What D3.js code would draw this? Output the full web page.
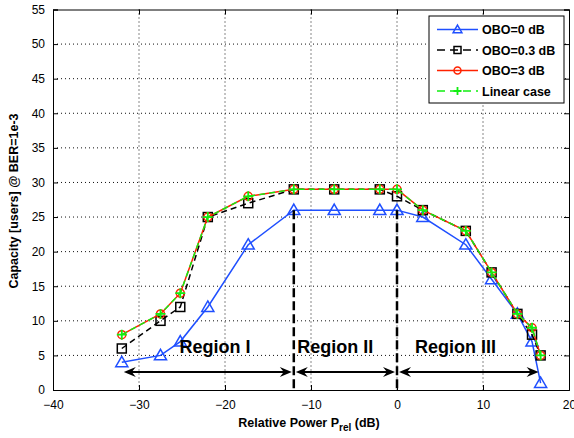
<!DOCTYPE html>
<html><head><meta charset="utf-8">
<script src="https://cdn.jsdelivr.net/npm/d3@7"></script>
<style>body{margin:0;background:#fff}svg{display:block}text{font-family:"Liberation Sans",Arial,sans-serif}</style>
</head><body><svg id="c" width="574" height="438"></svg>
<script>
const xVals = [-32, -27.5, -25.2, -22, -17.3, -12, -7.3, -2, 0, 3, 8, 11, 14, 15.7, 16.7];
const obo0 = [4, 5, 7, 12, 21, 26, 26, 26, 26, 25, 21, 16, 11, 7, 1];
const obo03 = [6, 10, 12, 25, 27, 29, 29, 29, 28, 26, 23, 17, 11, 8, 5];
const obo3 = [8, 11, 14, 25, 28, 29, 29, 29, 29, 26, 23, 17, 11, 9, 5];
const linear = [8, 11, 14, 25, 28, 29, 29, 29, 29, 26, 23, 17, 11, 9, 5];
const seriesNames = ["OBO=0 dB", "OBO=0.3 dB", "OBO=3 dB", "Linear case"];
const xTicks = [-40, -30, -20, -10, 0, 10, 20];
const yTicks = [0, 5, 10, 15, 20, 25, 30, 35, 40, 45, 50, 55];
const regionBounds = [-32, -12, 0, 16.7];
const regionLabels = ["Region I", "Region II", "Region III"];
const regionLabelX = [-25.3, -11.6, 2.1];

const svg = d3.select("#c");
const L = 53, R = 569, T = 9.5, B = 390;
const x = d3.scaleLinear().domain([-40, 20]).range([L, R]);
const y = d3.scaleLinear().domain([0, 55]).range([B, T]);

// grid
const g = svg.append("g");
g.selectAll(".gx").data(xTicks.slice(1, -1)).join("line")
  .attr("x1", d => x(d)).attr("x2", d => x(d)).attr("y1", T).attr("y2", B)
  .attr("stroke", "#111").attr("stroke-width", 1).attr("stroke-dasharray", "1,3");
g.selectAll(".gy").data(yTicks.slice(1, -1)).join("line")
  .attr("x1", L).attr("x2", R).attr("y1", d => y(d)).attr("y2", d => y(d))
  .attr("stroke", "#111").attr("stroke-width", 1).attr("stroke-dasharray", "1,3");

// axes
const ax = svg.append("g").attr("transform", `translate(0,${B})`)
  .call(d3.axisBottom(x).tickValues(xTicks).tickSize(-5).tickPadding(10).tickFormat(d3.format("d")));
const axt = svg.append("g").attr("transform", `translate(0,${T})`)
  .call(d3.axisTop(x).tickValues(xTicks).tickSize(-5).tickFormat(""));
const ay = svg.append("g").attr("transform", `translate(${L},0)`)
  .call(d3.axisLeft(y).tickValues(yTicks).tickSize(-5).tickPadding(8).tickFormat(d3.format("d")));
const ayr = svg.append("g").attr("transform", `translate(${R},0)`)
  .call(d3.axisRight(y).tickValues(yTicks).tickSize(-5).tickFormat(""));
[ax, axt, ay, ayr].forEach(a => {
  a.select(".domain").attr("stroke", "#000").attr("stroke-width", 1);
  a.selectAll(".tick line").attr("stroke", "#000");
  a.selectAll("text").attr("font-size", 12).attr("fill", "#000").attr("font-family", "Liberation Sans, Arial, sans-serif");
});
ax.selectAll(".tick text").attr("dy", "0.71em");

// series
const line = d3.line().x((d, i) => x(xVals[i])).y(d => y(d));
const plot = svg.append("g");
const series = [
  {v: obo0, c: "#1f4fff", dash: null, m: "tri"},
  {v: obo03, c: "#000", dash: "6,4", m: "sq"},
  {v: obo3, c: "#ff2200", dash: null, m: "circ"},
  {v: linear, c: "#11ee11", dash: "6,4", m: "plus"}
];
function marker(sel, type, c, px, py, s) {
  if (type === "tri") {
    sel.append("path").attr("d", `M${px},${py - s * 0.55}L${px + s * 0.55},${py + s * 0.4}L${px - s * 0.55},${py + s * 0.4}Z`)
      .attr("fill", "none").attr("stroke", c).attr("stroke-width", 1.5);
  } else if (type === "sq") {
    sel.append("rect").attr("x", px - s / 2).attr("y", py - s / 2).attr("width", s).attr("height", s)
      .attr("fill", "none").attr("stroke", c).attr("stroke-width", 1.5);
  } else if (type === "circ") {
    sel.append("circle").attr("cx", px).attr("cy", py).attr("r", s / 2)
      .attr("fill", "none").attr("stroke", c).attr("stroke-width", 1.5);
  } else {
    sel.append("path").attr("d", `M${px - s / 2},${py}H${px + s / 2}M${px},${py - s / 2}V${py + s / 2}`)
      .attr("stroke", c).attr("stroke-width", 1.8);
  }
}
const mSize = {tri: 11, sq: 9, circ: 8, plus: 10};
series.forEach(s => {
  plot.append("path").datum(s.v).attr("d", line).attr("fill", "none")
    .attr("stroke", s.c).attr("stroke-width", 1.5).attr("stroke-dasharray", s.dash);
  s.v.forEach((d, i) => marker(plot, s.m, s.c, x(xVals[i]), y(d), mSize[s.m]));
});

// region dividers
const ann = svg.append("g");
[regionBounds[1], regionBounds[2]].forEach(b => {
  ann.append("line").attr("x1", x(b)).attr("x2", x(b)).attr("y1", y(26)).attr("y2", B)
    .attr("stroke", "#000").attr("stroke-width", 2.5).attr("stroke-dasharray", "9,4");
});
const arrowY = 2.6;
function head(xt, dir, yy) {
  const len = 12, hw = 5, notch = 4;
  const p = [[xt, yy], [xt - dir * len, yy - hw], [xt - dir * (len - notch), yy], [xt - dir * len, yy + hw]];
  ann.append("path").attr("d", "M" + p.map(q => q.join(",")).join("L") + "Z").attr("fill", "#000");
}
for (let i = 0; i < 3; i++) {
  const x0 = x(regionBounds[i]) + 2, x1 = x(regionBounds[i + 1]) - 2, yy = y(arrowY);
  ann.append("line").attr("x1", x0 + 6).attr("x2", x1 - 6).attr("y1", yy).attr("y2", yy)
    .attr("stroke", "#000").attr("stroke-width", 2);
  head(x0, -1, yy); head(x1, 1, yy);
  ann.append("text").attr("x", x(regionLabelX[i])).attr("y", y(5.4)).text(regionLabels[i])
    .attr("font-size", 18).attr("font-weight", "bold").attr("fill", "#000");
}

// legend
const lg = svg.append("g");
lg.append("rect").attr("x", 429).attr("y", 16).attr("width", 135).attr("height", 87)
  .attr("fill", "#fff").attr("stroke", "#000").attr("stroke-width", 1);
const lmSize = {tri: 8, sq: 7, circ: 7, plus: 8};
series.forEach((s, i) => {
  const yy = 29.5 + i * 20.5;
  lg.append("line").attr("x1", 437).attr("x2", 478).attr("y1", yy).attr("y2", yy)
    .attr("stroke", s.c).attr("stroke-width", 1.5).attr("stroke-dasharray", s.dash ? "8,5" : null);
  marker(lg, s.m, s.c, 457.5, yy, lmSize[s.m]);
  lg.append("text").attr("x", 482).attr("y", yy + 4.5).text(seriesNames[i])
    .attr("font-size", 12.5).attr("font-weight", "bold").attr("fill", "#000");
});

// axis titles
const xt = svg.append("text").attr("x", (L + R) / 2 - 2).attr("y", 427).attr("text-anchor", "middle")
  .attr("font-size", 12.5).attr("font-weight", "bold").attr("fill", "#000");
xt.append("tspan").text("Relative Power P");
xt.append("tspan").text("rel").attr("font-size", 10).attr("dy", 4);
xt.append("tspan").text(" (dB)").attr("dy", -4);
svg.append("text").attr("transform", "translate(18,201) rotate(-90)").attr("text-anchor", "middle")
  .attr("font-size", 12.5).attr("font-weight", "bold").attr("fill", "#000")
  .text("Capacity [users] @ BER=1e-3");
</script></body></html>
